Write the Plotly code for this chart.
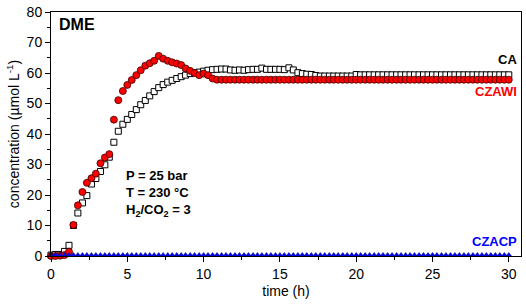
import plotly.graph_objects as go

time_h = [0.00, 0.29, 0.59, 0.88, 1.18, 1.47, 1.76, 2.06, 2.35, 2.65,
          2.94, 3.24, 3.53, 3.82, 4.12, 4.41, 4.71, 5.00, 5.29, 5.59,
          5.88, 6.18, 6.47, 6.76, 7.06, 7.35, 7.65, 7.94, 8.24, 8.53,
          8.82, 9.12, 9.41, 9.71, 10.00, 10.29, 10.59, 10.88, 11.18, 11.47,
          11.76, 12.06, 12.35, 12.65, 12.94, 13.24, 13.53, 13.82, 14.12, 14.41,
          14.71, 15.00, 15.29, 15.59, 15.88, 16.18, 16.47, 16.76, 17.06, 17.35,
          17.65, 17.94, 18.24, 18.53, 18.82, 19.12, 19.41, 19.71, 20.00, 20.29,
          20.59, 20.88, 21.18, 21.47, 21.76, 22.06, 22.35, 22.65, 22.94, 23.24,
          23.53, 23.82, 24.12, 24.41, 24.71, 25.00, 25.29, 25.59, 25.88, 26.18,
          26.47, 26.76, 27.06, 27.35, 27.65, 27.94, 28.24, 28.53, 28.82, 29.12,
          29.41, 29.71, 30.00]

ca = [0.3, 0.5, 0.5, 1.5, 3.5, 10.0, 14.1, 17.4, 19.8, 23.6,
      25.4, 27.7, 29.9, 32.4, 37.3, 40.9, 43.2, 44.8, 46.4, 48.0,
      49.6, 51.0, 52.5, 53.9, 55.2, 56.2, 57.0, 57.6, 58.2, 58.8,
      59.3, 59.8, 60.1, 60.3, 60.6, 60.9, 61.1, 61.2, 61.3, 61.3,
      61.0, 60.9, 61.0, 60.9, 61.1, 61.2, 61.2, 61.6, 61.2, 61.2,
      61.2, 61.2, 61.1, 61.7, 61.0, 60.1, 59.8, 59.6, 59.5, 59.2,
      59.0, 59.0, 59.0, 59.0, 59.0, 59.0, 59.0, 59.0, 59.5, 59.4,
      59.4, 59.4, 59.4, 59.4, 59.4, 59.4, 59.4, 59.4, 59.4, 59.4,
      59.4, 59.4, 59.4, 59.4, 59.4, 59.4, 59.4, 59.4, 59.4, 59.4,
      59.4, 59.4, 59.4, 59.4, 59.4, 59.4, 59.4, 59.4, 59.4, 59.4,
      59.4, 59.4, 59.4]

czawi = [0.0, 0.0, 0.1, 0.3, 1.4, 10.2, 16.6, 21.0, 24.0, 25.5,
         27.0, 30.4, 32.3, 33.4, 44.7, 51.1, 54.1, 56.1, 57.7, 59.3,
         60.9, 62.4, 63.2, 64.0, 65.6, 64.7, 64.0, 63.5, 63.1, 62.6,
         61.5, 60.7, 60.0, 59.3, 59.8, 59.3, 58.2, 57.8, 57.8, 57.8,
         57.8, 57.8, 57.8, 57.8, 57.8, 57.8, 57.8, 57.8, 57.8, 57.8,
         57.8, 57.8, 57.8, 57.8, 57.8, 57.8, 57.8, 57.8, 57.8, 57.8,
         57.8, 57.8, 57.8, 57.8, 57.8, 57.8, 57.8, 57.8, 57.8, 57.8,
         57.8, 57.8, 57.8, 57.8, 57.8, 57.8, 57.8, 57.8, 57.8, 57.8,
         57.8, 57.8, 57.8, 57.8, 57.8, 57.8, 57.8, 57.8, 57.8, 57.8,
         57.8, 57.8, 57.8, 57.8, 57.8, 57.8, 57.8, 57.8, 57.8, 57.8,
         57.8, 57.8, 57.8]

czacp = [0.3, 0.3, 0.3, 0.3, 0.3, 0.3, 0.3, 0.3, 0.3, 0.3,
         0.3, 0.3, 0.3, 0.3, 0.3, 0.3, 0.3, 0.3, 0.3, 0.3,
         0.3, 0.3, 0.3, 0.3, 0.3, 0.3, 0.3, 0.3, 0.3, 0.3,
         0.3, 0.3, 0.3, 0.3, 0.3, 0.3, 0.3, 0.3, 0.3, 0.3,
         0.3, 0.3, 0.3, 0.3, 0.3, 0.3, 0.3, 0.3, 0.3, 0.3,
         0.3, 0.3, 0.3, 0.3, 0.3, 0.3, 0.3, 0.3, 0.3, 0.3,
         0.3, 0.3, 0.3, 0.3, 0.3, 0.3, 0.3, 0.3, 0.3, 0.3,
         0.3, 0.3, 0.3, 0.3, 0.3, 0.3, 0.3, 0.3, 0.3, 0.3,
         0.3, 0.3, 0.3, 0.3, 0.3, 0.3, 0.3, 0.3, 0.3, 0.3,
         0.3, 0.3, 0.3, 0.3, 0.3, 0.3, 0.3, 0.3, 0.3, 0.3,
         0.3, 0.3, 0.3]

x_ticks = [0, 5, 10, 15, 20, 25, 30]
y_ticks = [0, 10, 20, 30, 40, 50, 60, 70, 80]

FONT = "Arial, Liberation Sans, sans-serif"

fig = go.Figure()
fig.add_trace(go.Scatter(
    x=time_h, y=ca, mode="markers", name="CA", cliponaxis=False,
    marker=dict(symbol="square", size=6, color="white",
                line=dict(color="black", width=1))))
fig.add_trace(go.Scatter(
    x=time_h, y=czawi, mode="markers", name="CZAWI", cliponaxis=False,
    marker=dict(symbol="circle", size=7, color="#ff0000",
                line=dict(color="#3a0000", width=0.8))))
fig.add_trace(go.Scatter(
    x=time_h, y=czacp, mode="markers", name="CZACP", cliponaxis=False,
    marker=dict(symbol="triangle-up", size=5, color="#0000ff",
                line=dict(color="#00008a", width=0.6))))

axis_common = dict(
    showgrid=False, zeroline=False, showline=True, linecolor="black",
    linewidth=1, mirror=True, ticks="outside", ticklen=5, tickwidth=1,
    tickcolor="black", ticklabeloverflow="allow",
    tickfont=dict(family=FONT, size=14, color="black"),
)

fig.update_layout(
    width=526, height=304,
    margin=dict(l=51, r=4, t=7, b=48),
    paper_bgcolor="white", plot_bgcolor="white",
    showlegend=False,
    font=dict(family=FONT, color="black"),
    xaxis=dict(range=[0, 30.8], tickvals=x_ticks,
               ticktext=[str(v) for v in x_ticks],
               minor=dict(ticks="outside", ticklen=3, dtick=2.5, tick0=0,
                          tickcolor="black"),
               title=dict(text="time (h)", font=dict(family=FONT, size=14),
                          standoff=5),
               **axis_common),
    yaxis=dict(range=[0, 80], tickvals=y_ticks,
               ticktext=[str(v) for v in y_ticks],
               minor=dict(ticks="outside", ticklen=3, dtick=5, tick0=0,
                          tickcolor="black"),
               title=dict(text="concentration (\u00b5mol L<sup>-1</sup>)",
                          font=dict(family=FONT, size=14), standoff=3),
               **axis_common),
)

ann = dict(xref="paper", yref="paper", showarrow=False)
fig.add_annotation(x=0.012, y=0.99, text="<b>DME</b>", xanchor="left",
                   yanchor="top", font=dict(family=FONT, size=16, color="black"), **ann)
fig.add_annotation(x=0.995, y=0.805, text="<b>CA</b>", xanchor="right",
                   yanchor="middle", font=dict(family=FONT, size=13, color="black"), **ann)
fig.add_annotation(x=0.995, y=0.675, text="<b>CZAWI</b>", xanchor="right",
                   yanchor="middle", font=dict(family=FONT, size=13, color="#ff0000"), **ann)
fig.add_annotation(x=0.995, y=0.06, text="<b>CZACP</b>", xanchor="right",
                   yanchor="middle", font=dict(family=FONT, size=13, color="#0000ff"), **ann)
fig.add_annotation(x=0.155, y=0.37, text="<b>P = 25 bar<br>T = 230 \u00b0C<br>H<sub>2</sub>/CO<sub>2</sub> = 3</b>",
                   xanchor="left", yanchor="top", align="left",
                   font=dict(family=FONT, size=13, color="black"), **ann)

fig.write_html("out.html", config={"displayModeBar": False},
               post_script="document.body.style.margin='0';document.body.style.padding='0';")
